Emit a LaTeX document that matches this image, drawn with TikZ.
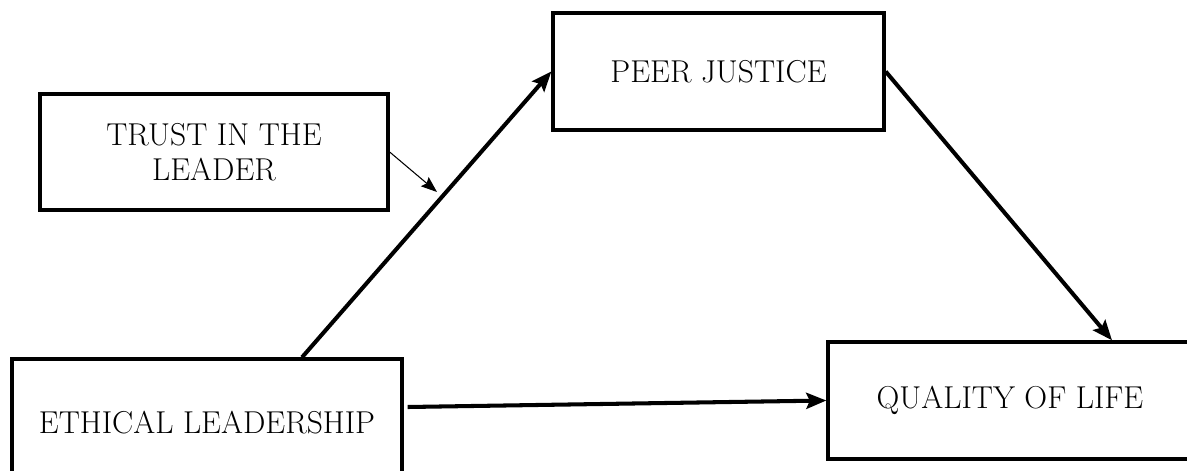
\documentclass[tikz,border=0pt]{standalone}
\usepackage{tikz}
\usetikzlibrary{arrows.meta}

\tikzset{
  factor/.style={draw, line width=1.9pt, rectangle, inner sep=0pt, align=center,
    font=\fontsize{18}{20}\selectfont},
}

\begin{document}
\begin{tikzpicture}[>={Stealth[length=4mm,width=3.2mm,inset=0.7mm]}]
        \useasboundingbox (0,0) rectangle (23.74,9.4);
        \clip (0,0) rectangle (23.74,9.4);
        \begin{scope}
            \node [factor, minimum width=6.96cm, minimum height=2.32cm] (trust) at (4.28,6.36) {TRUST IN THE\\LEADER};
            \node [factor, minimum width=6.62cm, minimum height=2.34cm] (peer) at (14.37,7.97) {PEER JUSTICE};
            \node [factor, minimum width=7.8cm, minimum height=2.56cm] (ethical) at (4.14,0.94) {ETHICAL LEADERSHIP};
            \node [factor, minimum width=7.28cm, minimum height=2.34cm] (quality) at (20.2,1.39) {QUALITY OF LIFE};
            \coordinate (moderate) at (8.74,5.56);
            \draw [->, line width=2.3pt] ([xshift=1.9cm]ethical.north) -- (peer.west);
            \draw [->, line width=2.3pt] (peer.east) -- ([xshift=2.04cm]quality.north);
            \draw [->, line width=2.3pt] ([yshift=0.32cm, xshift=0.08cm]ethical.east) -- (quality.west);
            \draw [-{Stealth[length=3.2mm,width=2.4mm,inset=0.5mm]}, line width=0.6pt] (trust.east) -- (moderate);
        \end{scope}
    \end{tikzpicture}
\end{document}
